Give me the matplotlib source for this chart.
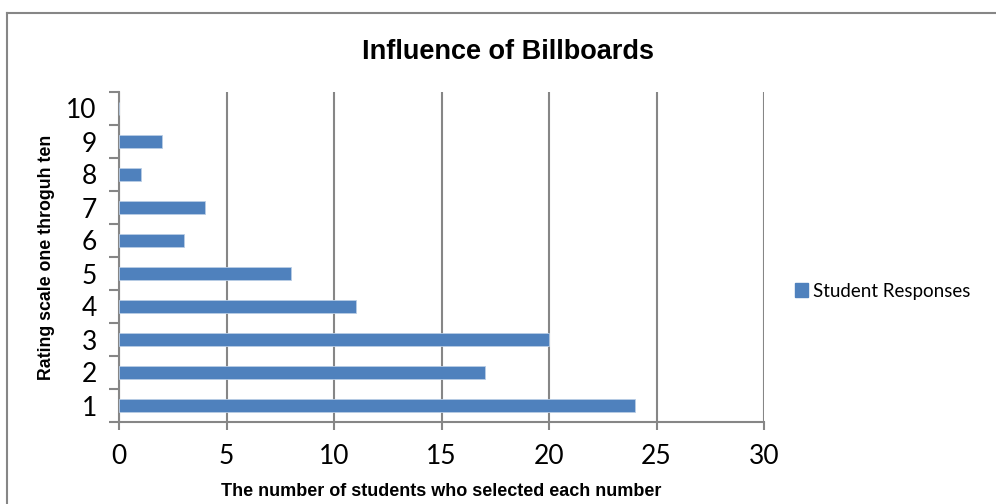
import matplotlib.pyplot as plt
from matplotlib.lines import Line2D
from matplotlib.patches import Patch

ratings = [1, 2, 3, 4, 5, 6, 7, 8, 9, 10]
responses = [24, 17, 20, 11, 8, 3, 4, 1, 2, 0]
x_ticks = [0, 5, 10, 15, 20, 25, 30]

bar_color = "#4F81BD"
axis_gray = "#868686"
label_font = ["Lato", "DejaVu Sans"]
bold_font = ["Liberation Sans Narrow", "Liberation Sans", "DejaVu Sans"]

fig = plt.figure(figsize=(9.96, 5.04), dpi=100)
ax = fig.add_axes([119 / 996, 1 - 422 / 504, 645 / 996, 330 / 504])

ax.barh(ratings, responses, height=0.4, color=bar_color, edgecolor="#B9CDE5",
        linewidth=0.6, zorder=3)

ax.set_xlim(0, 30)
ax.set_ylim(0.5, 10.5)
ax.set_xticks(x_ticks)
ax.set_xticklabels([str(v) for v in x_ticks], fontsize=19, family=label_font)
ax.set_yticks(ratings)
ax.set_yticklabels([str(v) for v in ratings], fontsize=19, family=label_font)
ax.set_yticks([r - 0.5 for r in ratings] + [10.5], minor=True)

ax.tick_params(axis="y", which="major", length=0, pad=16)
ax.tick_params(axis="y", which="minor", length=7, width=1.5, color=axis_gray,
               direction="out")
ax.tick_params(axis="x", which="major", length=6, width=1.5, color=axis_gray,
               direction="out", pad=10)

ax.grid(axis="x", color=axis_gray, linewidth=1.5, zorder=0)
for side in ("top", "right"):
    ax.spines[side].set_visible(False)
for side in ("left", "bottom"):
    ax.spines[side].set_color(axis_gray)
    ax.spines[side].set_linewidth(1.5)

ax.set_xlabel("The number of students who selected each number", fontsize=13,
              fontweight="bold", family=bold_font, labelpad=10)
ax.set_ylabel("Rating scale one throguh ten", fontsize=12.8, fontweight="bold",
              family=bold_font, labelpad=8)

fig.text(508 / 996, 1 - 52 / 504, "Influence of Billboards", ha="center",
         va="center", fontsize=19.5, fontweight="bold", family=bold_font)

fig.legend(handles=[Patch(color=bar_color, label="Student Responses")],
           loc="center left", bbox_to_anchor=(778 / 996, 1 - 291 / 504),
           frameon=False, handlelength=0.7, handleheight=0.7, handletextpad=0.25,
           prop={"family": label_font, "size": 13.5})

# chart border, running off the right and bottom edges
fig.add_artist(Line2D([7 / 996, 7 / 996], [0, 1 - 13 / 504], color=axis_gray,
                      linewidth=1.5, transform=fig.transFigure))
fig.add_artist(Line2D([7 / 996, 1], [1 - 13 / 504, 1 - 13 / 504], color=axis_gray,
                      linewidth=1.5, transform=fig.transFigure))

fig.savefig("out.png", dpi=100)
